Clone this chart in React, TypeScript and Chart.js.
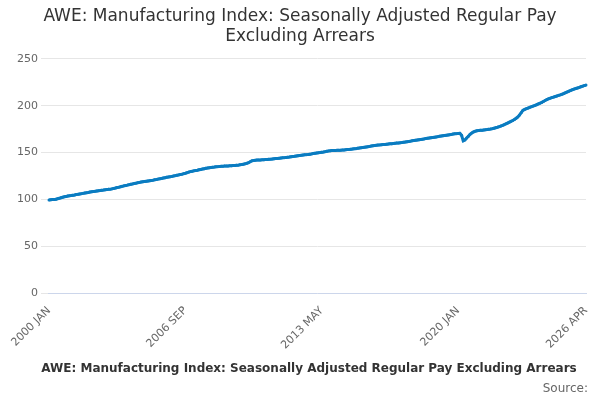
import React, { useEffect, useRef } from "react";
import { Chart, registerables } from "chart.js";
Chart.register(...registerables);

const MONTHS = ["JAN","FEB","MAR","APR","MAY","JUN","JUL","AUG","SEP","OCT","NOV","DEC"];
const START_YEAR = 2000;
const SHOWN_LABELS = ["2000 JAN", "2006 SEP", "2013 MAY", "2020 JAN", "2026 APR"];
const VALUES: number[] = [
  // 2000
  99.5,99.8,100,99.9,100.3,100.8,101.2,101.8,102.3,102.8,103.2,103.6,
  // 2001
  104,104.2,104.5,104.8,105.2,105.5,105.9,106.2,106.5,106.9,107.2,107.5,
  // 2002
  107.9,108.2,108.5,108.7,109,109.3,109.5,109.8,110,110.3,110.5,110.8,
  // 2003
  111,111.3,111.8,112.2,112.7,113.1,113.6,114,114.5,114.9,115.3,115.8,
  // 2004
  116.2,116.6,117,117.4,117.8,118.2,118.5,118.8,119.1,119.4,119.7,120,
  // 2005
  120.3,120.6,121,121.3,121.7,122,122.4,122.8,123.2,123.6,124,124.3,
  // 2006
  124.6,125,125.4,125.8,126.2,126.6,127,127.5,128,128.6,129.2,129.7,
  // 2007
  130.1,130.5,130.9,131.2,131.6,132,132.4,132.8,133.2,133.5,133.8,134.1,
  // 2008
  134.3,134.5,134.8,135,135.2,135.4,135.5,135.6,135.7,135.8,135.9,136,
  // 2009
  136.1,136.2,136.4,136.6,136.9,137.2,137.6,138,138.5,139.2,140.2,141.2,
  // 2010
  141.6,141.8,142,142.1,142.2,142.3,142.4,142.5,142.6,142.8,143,143.2,
  // 2011
  143.4,143.6,143.8,144,144.2,144.4,144.6,144.8,145,145.2,145.5,145.8,
  // 2012
  146,146.3,146.6,146.9,147.2,147.4,147.6,147.8,148,148.3,148.6,148.9,
  // 2013
  149.2,149.5,149.8,150,150.3,150.6,151,151.4,151.8,152,152.1,152.2,
  // 2014
  152.3,152.4,152.5,152.6,152.7,152.8,153,153.2,153.4,153.6,153.8,154,
  // 2015
  154.2,154.5,154.8,155.1,155.4,155.7,156,156.3,156.6,156.9,157.2,157.5,
  // 2016
  157.8,158,158.2,158.4,158.6,158.7,158.9,159.1,159.3,159.5,159.7,159.9,
  // 2017
  160.1,160.3,160.5,160.7,161,161.3,161.6,161.9,162.2,162.5,162.8,163.1,
  // 2018
  163.4,163.7,164,164.3,164.6,164.9,165.2,165.5,165.8,166.1,166.4,166.7,
  // 2019
  167,167.3,167.6,167.9,168.2,168.5,168.8,169.1,169.4,169.7,170,170.2,
  // 2020
  170.4,170.5,168.5,162.5,163.5,165.5,167.5,169.5,171,172,172.8,173.2,
  // 2021
  173.5,173.7,173.9,174.1,174.3,174.5,174.8,175.1,175.5,176,176.5,177,
  // 2022
  177.6,178.3,179,179.8,180.6,181.5,182.4,183.3,184.2,185.3,186.6,188,
  // 2023
  190,192.5,195,196,196.8,197.5,198.2,198.9,199.6,200.3,201,201.8,
  // 2024
  202.6,203.5,204.5,205.5,206.5,207.3,208,208.6,209.2,209.8,210.4,211,
  // 2025
  211.6,212.3,213,213.8,214.6,215.4,216.2,217,217.7,218.3,218.9,219.5,
  // 2026
  220.2,220.8,221.4,222,
];
const LABELS = VALUES.map((_, i) => `${START_YEAR + Math.floor(i / 12)} ${MONTHS[i % 12]}`);
const SERIES = "AWE: Manufacturing Index: Seasonally Adjusted Regular Pay Excluding Arrears";

export default function App() {
  const ref = useRef<HTMLCanvasElement>(null);
  useEffect(() => {
    const font = "'DejaVu Sans', sans-serif";
    Chart.defaults.font.family = font;
    const chart = new Chart(ref.current!, {
      type: "line",
      data: {
        labels: LABELS,
        datasets: [{
          label: SERIES, data: VALUES, borderColor: "#0a7cc1", backgroundColor: "#0a7cc1",
          borderWidth: 3, pointRadius: 1.5, pointBorderWidth: 0, tension: 0,
        }],
      },
      options: {
        animation: false, responsive: false, maintainAspectRatio: false,
        layout: { padding: { right: 14, left: 14, top: 6 } },
        plugins: {
          title: { display: true, text: ["AWE: Manufacturing Index: Seasonally Adjusted Regular Pay", "Excluding Arrears"], color: "#333", font: { size: 17, weight: "normal" }, padding: { top: 0, bottom: 12 } },
          legend: { position: "bottom", labels: { color: "#333", font: { size: 12, weight: "bold" }, usePointStyle: true, pointStyle: "line", boxWidth: 20, padding: 8 } },
          tooltip: { enabled: false },
        },
        scales: {
          x: {
            grid: { display: false, drawTicks: true },
            border: { color: "#ccd6eb" },
            ticks: {
              autoSkip: false, maxRotation: 45, minRotation: 45, color: "#666", font: { size: 11 },
              callback: (v: any) => (SHOWN_LABELS.includes(LABELS[v]) ? LABELS[v] : null),
            },
          },
          y: {
            min: 0, max: 250,
            ticks: { stepSize: 50, color: "#666", font: { size: 11 } },
            grid: { color: "#e6e6e6" }, border: { display: false },
          },
        },
      },
    });
    return () => chart.destroy();
  }, []);
  return (
    <div style={{ position: "fixed", left: 0, top: 0, width: 600, height: 400 }}>
      <canvas ref={ref} width={600} height={385} />
      <div style={{ position: "absolute", right: 12, top: 381, fontFamily: "'DejaVu Sans', sans-serif", fontSize: 12, color: "#666" }}>Source:</div>
    </div>
  );
}
